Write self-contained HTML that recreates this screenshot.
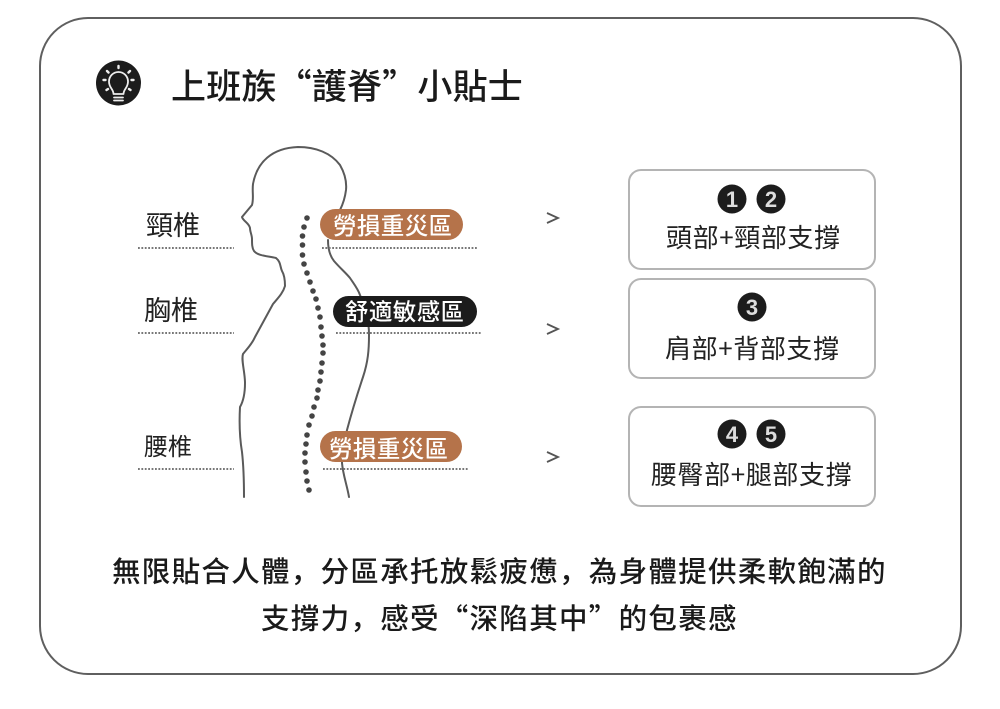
<!DOCTYPE html>
<html lang="zh-CN"><head><meta charset="utf-8"><style>
html,body{margin:0;padding:0;background:#fff}
svg{display:block}
text{font-family:"Noto Sans CJK SC","Liberation Sans",sans-serif;fill:#1a1a1a}
.p{fill:#fff;font-size:23.500px;letter-spacing:.4px;font-weight:500}
.b{font-size:26px;letter-spacing:.6px;fill:#222;font-weight:400}
.n{fill:#ddd;font-size:22px;font-weight:700;text-anchor:middle;font-family:"Liberation Sans",sans-serif}
.d{stroke:#777;stroke-width:2;stroke-dasharray:1.800 1.600;fill:none}
.box{fill:#fff;stroke:#b4b4b4;stroke-width:2}
.s{fill:none;stroke:#5a5a5a;stroke-width:2;stroke-linejoin:round;stroke-linecap:round}
.l{fill:#222;font-weight:400}
</style></head><body>
<svg width="1000" height="709" viewBox="0 0 1000 709" xmlns="http://www.w3.org/2000/svg">
<rect width="1000" height="709" fill="#fff"/>
<rect x="40" y="18" width="921" height="656" rx="48" fill="#fff" stroke="#5f5f5f" stroke-width="2"/>

<circle cx="118.500" cy="83" r="22.500" fill="#1c1c1c"/>
<g fill="none" stroke="#eee" stroke-width="1.800" stroke-linecap="round" stroke-linejoin="round">
<path d="M114 100.500h9M114 97.500h9M113.500 94c0-5-4.500-6-4.500-12.500a9.500 9.500 0 0 1 19 0c0 6.500-4.500 7.500-4.500 12.500z"/>
<path stroke-width="2.400" d="M118.500 66v2M107 71l1.500 1.500M130 71l-1.500 1.500M103.500 80h2M133.500 80h-2M106.500 90l1.500-1M130.500 90l-1.500-1"/>
</g>
<text x="171" y="99" font-size="35" letter-spacing=".2" font-weight="500">上班族“護脊”小貼士</text>

<path class="s" d="M340 210C343 204 345 198 346 190C347 180 344 172 340 165C331 153 316 147 298 147C272 148 257 162 253 184C252 192 254 198 252 205L242 217C243 221 249 223 250 228C250 232 252 235 252 239C252 244 252 248 254 251C258 256 268 256 276 258C281 262 280 267 282 271C285 276 285 282 285 286C283 293 278 298 273 304L255 337C252 344 247 349 243 354C241 360 245 372 245 383C245 392 244 400 240 407C239 425 240 440 242 452C244 470 244 485 244 497"/>
<path class="s" d="M328 240C328 248 330 256 334 261C340 268 346 273 350 278C354 284 358 289 360 295C366 310 369 320 369 335C369 350 368 362 363 377C357 395 351 415 347 430C344 445 342 455 342 463C343 475 347 485 349 497"/>

<g fill="#444">
<circle cx="307" cy="218" r="2.800"/><circle cx="304" cy="227" r="2.800"/><circle cx="302.500" cy="236" r="2.800"/><circle cx="302.500" cy="245" r="2.800"/><circle cx="302.500" cy="255" r="2.800"/><circle cx="304" cy="264" r="2.800"/><circle cx="307" cy="273" r="2.800"/><circle cx="310" cy="282" r="2.800"/><circle cx="313" cy="291" r="2.800"/><circle cx="316" cy="299" r="2.800"/><circle cx="318" cy="308" r="2.800"/><circle cx="320" cy="317" r="2.800"/><circle cx="321" cy="327" r="2.800"/><circle cx="322" cy="336" r="2.800"/><circle cx="323" cy="345" r="2.800"/><circle cx="323" cy="353" r="2.800"/><circle cx="322" cy="363" r="2.800"/><circle cx="321" cy="372" r="2.800"/><circle cx="320" cy="381" r="2.800"/><circle cx="318" cy="390" r="2.800"/><circle cx="317" cy="398" r="2.800"/><circle cx="314" cy="407" r="2.800"/><circle cx="312" cy="416" r="2.800"/><circle cx="309" cy="425" r="2.800"/><circle cx="307" cy="435" r="2.800"/><circle cx="306" cy="444" r="2.800"/><circle cx="305" cy="453" r="2.800"/><circle cx="305" cy="462" r="2.800"/><circle cx="306" cy="472" r="2.800"/><circle cx="307" cy="481" r="2.800"/><circle cx="309" cy="490" r="2.800"/>
</g>

<text class="l" x="146" y="235" font-size="27">頸椎</text>
<text class="l" x="144" y="320" font-size="27">胸椎</text>
<text class="l" x="144" y="455" font-size="24">腰椎</text>
<path class="d" d="M138 248H234M322 248H477M138 333H234M336 333H482M138 469H234M323 469H469"/>

<rect x="320" y="209" width="143" height="31" rx="15.500" fill="#b5734a"/>
<text class="p" x="333" y="234">勞損重災區</text>
<rect x="333" y="296" width="144" height="31" rx="15.500" fill="#1c1c1c"/>
<text class="p" x="345" y="320">舒適敏感區</text>
<rect x="320" y="431" width="142" height="31" rx="15.500" fill="#b5734a"/>
<text class="p" x="329" y="457">勞損重災區</text>

<path d="M547 213L558 218L547 223M547 324L558 329L547 334M547 452L558 457L547 462" fill="none" stroke="#555" stroke-width="1.800"/>

<rect class="box" x="629" y="170" width="246" height="99" rx="12"/>
<rect class="box" x="629" y="279" width="246" height="99" rx="12"/>
<rect class="box" x="629" y="407" width="246" height="99" rx="12"/>
<g fill="#1c1c1c"><circle cx="732" cy="199" r="14.500"/><circle cx="771" cy="199" r="14.500"/><circle cx="752" cy="307" r="14.500"/><circle cx="732" cy="434" r="14.500"/><circle cx="771" cy="434" r="14.500"/></g>
<text class="n" x="732" y="207">1</text><text class="n" x="771" y="207">2</text><text class="n" x="752" y="315">3</text><text class="n" x="732" y="442">4</text><text class="n" x="771" y="442">5</text>
<text class="b" x="666" y="247">頭部+頸部支撐</text>
<text class="b" x="665" y="358">肩部+背部支撐</text>
<text class="b" x="651" y="484">腰臀部+腿部支撐</text>

<text x="112" y="581.500" font-size="28.500" letter-spacing="1.300" font-weight="500">無限貼合人體，分區承托放鬆疲憊，為身體提供柔軟飽滿的</text>
<text x="261" y="628.500" font-size="28.500" letter-spacing="1.300" font-weight="500">支撐力，感受“深陷其中”的包裹感</text>
</svg>
</body></html>
